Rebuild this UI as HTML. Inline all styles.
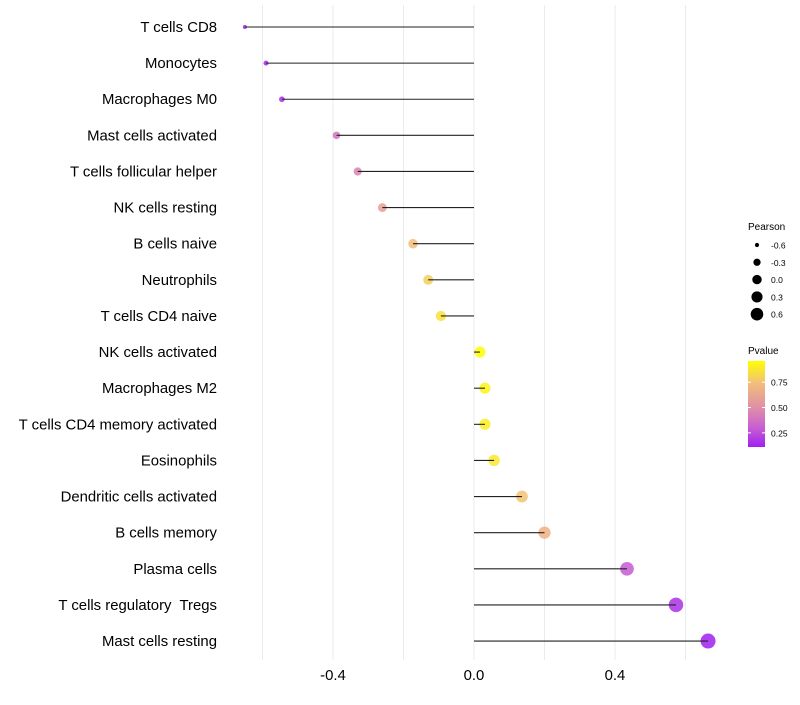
<!DOCTYPE html>
<html><head><meta charset="utf-8"><style>
body{margin:0;background:#fff;font-family:"Liberation Sans",sans-serif;}
text{white-space:pre;}
</style></head><body>
<svg id="chart" width="800" height="700" xmlns="http://www.w3.org/2000/svg" font-family="Liberation Sans, sans-serif">
<defs>
<linearGradient id="pgrad" x1="0" y1="1" x2="0" y2="0">
<stop offset="0" stop-color="#A020F0"/><stop offset="0.23" stop-color="#C860D0"/><stop offset="0.46" stop-color="#E08FA8"/><stop offset="0.75" stop-color="#F2C078"/><stop offset="1" stop-color="#FFFF00"/>
</linearGradient>
</defs>
<g id="grid"></g><g id="marks"></g><g id="labels"></g><g id="xticks"></g>
<g>
<text x="748" y="230" font-size="10" fill="#000">Pearson</text>
<g id="sizeleg"></g>
<text x="748" y="354" font-size="10" fill="#000">Pvalue</text>
<rect x="748" y="361" width="17" height="86" fill="url(#pgrad)"/>
<g id="colleg"></g>
</g>
</svg>
<script>
const categories=["T cells CD8","Monocytes","Macrophages M0","Mast cells activated","T cells follicular helper","NK cells resting","B cells naive","Neutrophils","T cells CD4 naive","NK cells activated","Macrophages M2","T cells CD4 memory activated","Eosinophils","Dendritic cells activated","B cells memory","Plasma cells","T cells regulatory  Tregs","Mast cells resting"];
const pearson=[-0.65,-0.59,-0.545,-0.39,-0.33,-0.26,-0.173,-0.13,-0.094,0.017,0.031,0.031,0.057,0.136,0.2,0.434,0.573,0.664];
const pvalue=[0.08,0.12,0.15,0.38,0.45,0.58,0.74,0.8,0.86,0.96,0.92,0.9,0.88,0.76,0.68,0.28,0.15,0.08];
const xTicks=[-0.4,0.0,0.4];
const gridVals=[-0.6,-0.4,-0.2,0,0.2,0.4,0.6];
const sizeLegend=[-0.6,-0.3,0.0,0.3,0.6];
const colorTicks=[0.25,0.5,0.75];
const NS="http://www.w3.org/2000/svg";
const xs=v=>474+v*352.5;
const ys=i=>27+i*36.12;
const rs=v=>Math.sqrt(Math.max(2,29.8+39.7*v));
const rl=v=>Math.sqrt(Math.max(2,20+26.7*v))*1.05;
const cy=p=>447-(p-0.11)/(0.96-0.11)*86;
const stops=[[0.1,[160,32,240]],[0.3,[200,96,208]],[0.5,[224,143,168]],[0.75,[242,192,120]],[0.96,[255,255,0]]];
function col(p){if(p<=stops[0][0])return`rgb(${stops[0][1]})`;for(let k=1;k<stops.length;k++){if(p<=stops[k][0]){const t=(p-stops[k-1][0])/(stops[k][0]-stops[k-1][0]);const c=stops[k-1][1].map((a,j)=>Math.round(a+(stops[k][1][j]-a)*t));return`rgb(${c})`;}}return`rgb(${stops[stops.length-1][1]})`;}
function mk(t,a,parent){const e=document.createElementNS(NS,t);for(const k in a)e.setAttribute(k,a[k]);document.getElementById(parent).appendChild(e);return e;}
gridVals.forEach(v=>{const e=mk('line',{x1:xs(v),x2:xs(v),y1:5,y2:660,stroke:'#ebebeb','stroke-width':1},'grid');

});
categories.forEach((c,i)=>{
const d=mk('circle',{cx:xs(pearson[i]),cy:ys(i),r:rs(pearson[i]),fill:col(pvalue[i]),'fill-opacity':0.85},'marks');


const l=mk('line',{x1:xs(0),x2:xs(pearson[i]),y1:ys(i),y2:ys(i),stroke:'#222','stroke-width':1.1},'marks');


const t=mk('text',{x:217,y:ys(i)+5,'text-anchor':'end','font-size':14.9,fill:'#000','xml:space':'preserve'},'labels');t.textContent=c;


});
xTicks.forEach(v=>{const t=mk('text',{x:xs(v),y:680,'text-anchor':'middle','font-size':14.9,fill:'#000'},'xticks');t.textContent=v.toFixed(1);

});
sizeLegend.forEach((v,k)=>{const y=245+k*17.3;const c=mk('circle',{cx:757,cy:y,r:rl(v),fill:'#000'},'sizeleg');


const t=mk('text',{x:771,y:y+3.5,'font-size':8.5,fill:'#000'},'sizeleg');t.textContent=v.toFixed(1);

});
colorTicks.forEach(p=>{const y=cy(p);mk('line',{x1:748,x2:751,y1:y,y2:y,stroke:'#fff'},'colleg');mk('line',{x1:762,x2:765,y1:y,y2:y,stroke:'#fff'},'colleg');
const t=mk('text',{x:771,y:y+3.5,'font-size':8.5,fill:'#000'},'colleg');t.textContent=p.toFixed(2);

});
</script>
</body></html>
